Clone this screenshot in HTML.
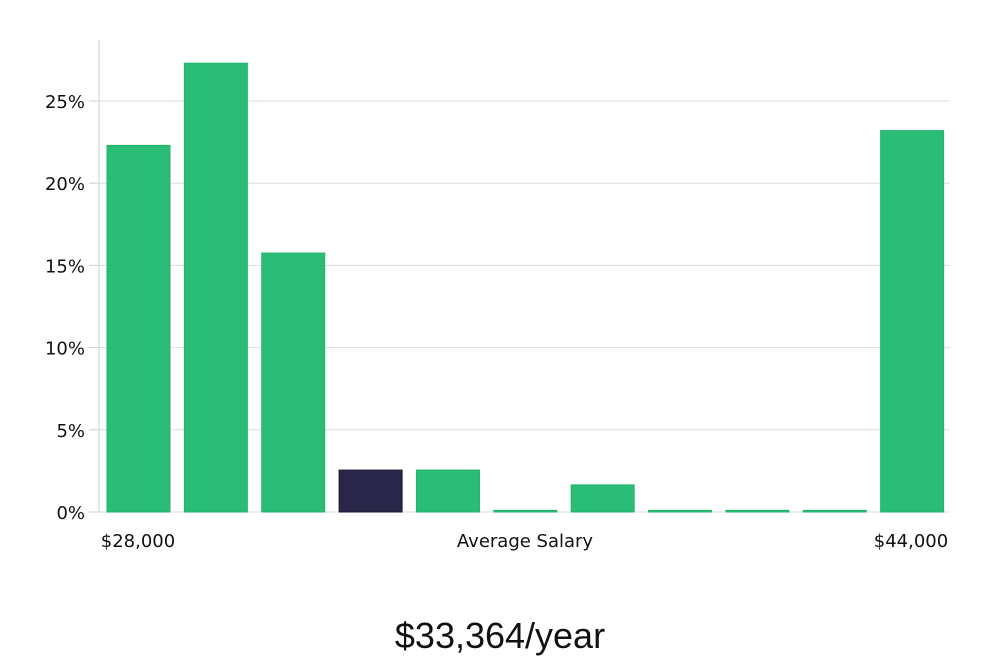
<!DOCTYPE html>
<html><head><meta charset="utf-8"><style>
body{margin:0;background:#fff;width:1000px;height:660px;overflow:hidden}
svg{display:block}
text{font-family:"DejaVu Sans","Liberation Sans",sans-serif;fill:#111}
</style></head><body>
<svg id="chart" width="1000" height="660" xmlns="http://www.w3.org/2000/svg">
<g id="grid"></g>
<g id="yticks"></g>
<g id="bars"></g>
<text x="138" y="547" text-anchor="middle" font-size="18">$28,000</text>
<text x="525" y="547" text-anchor="middle" font-size="18">Average Salary</text>
<text x="911" y="547" text-anchor="middle" font-size="18">$44,000</text>
<text x="500" y="648" text-anchor="middle" font-size="36" style="font-family:'Liberation Sans',sans-serif">$33,364/year</text>
</svg>
<script>
const values=[22.3,27.3,15.75,2.55,2.55,0.1,1.65,0.1,0.1,0.1,23.2];
const highlight=[false,false,false,true,false,false,false,false,false,false,false];
const yTicks=[0,5,10,15,20,25];
const yLabels=["0%","5%","10%","15%","20%","25%"];
const NS="http://www.w3.org/2000/svg";
const x0=99,x1=950,y0=512,pxPer=16.44;
const y=v=>y0-v*pxPer;
const pitch=(x1-x0)/values.length, bw=63;
const xb=i=>x0+8+i*pitch;
const grid=document.getElementById('grid'),yt=document.getElementById('yticks'),bars=document.getElementById('bars');
const axis=document.createElementNS(NS,'line');


axis.setAttribute('x1',x0);axis.setAttribute('x2',x0);axis.setAttribute('y1',40);axis.setAttribute('y2',y0);axis.setAttribute('stroke','#ccc');
yt.appendChild(axis);
yTicks.forEach((t,i)=>{
 const g=document.createElementNS(NS,'line');
 
 
 g.setAttribute('x1',x0);g.setAttribute('x2',x1);g.setAttribute('y1',y(t));g.setAttribute('y2',y(t));g.setAttribute('stroke','#ddd');
 grid.appendChild(g);
 const tk=document.createElementNS(NS,'line');
 
 
 tk.setAttribute('x1',89);tk.setAttribute('x2',x0);tk.setAttribute('y1',y(t));tk.setAttribute('y2',y(t));tk.setAttribute('stroke','#ccc');
 yt.appendChild(tk);
 const tx=document.createElementNS(NS,'text');
 
 
 tx.setAttribute('x',85);tx.setAttribute('y',y(t)+7);tx.setAttribute('text-anchor','end');tx.setAttribute('font-size','18');
 tx.textContent=yLabels[i];yt.appendChild(tx);
});
values.forEach((v,i)=>{
 const r=document.createElementNS(NS,'rect');
 
 
 const h=Math.max(v*pxPer,1);
 r.setAttribute('x',xb(i));r.setAttribute('y',y0-h);r.setAttribute('width',bw);r.setAttribute('height',h);
 r.setAttribute('fill',highlight[i]?'#29264a':'#2abd77');
 r.setAttribute('stroke',highlight[i]?'#1c1a38':'#22b36c');r.setAttribute('stroke-width','1');
 bars.appendChild(r);
});
</script>
</body></html>
